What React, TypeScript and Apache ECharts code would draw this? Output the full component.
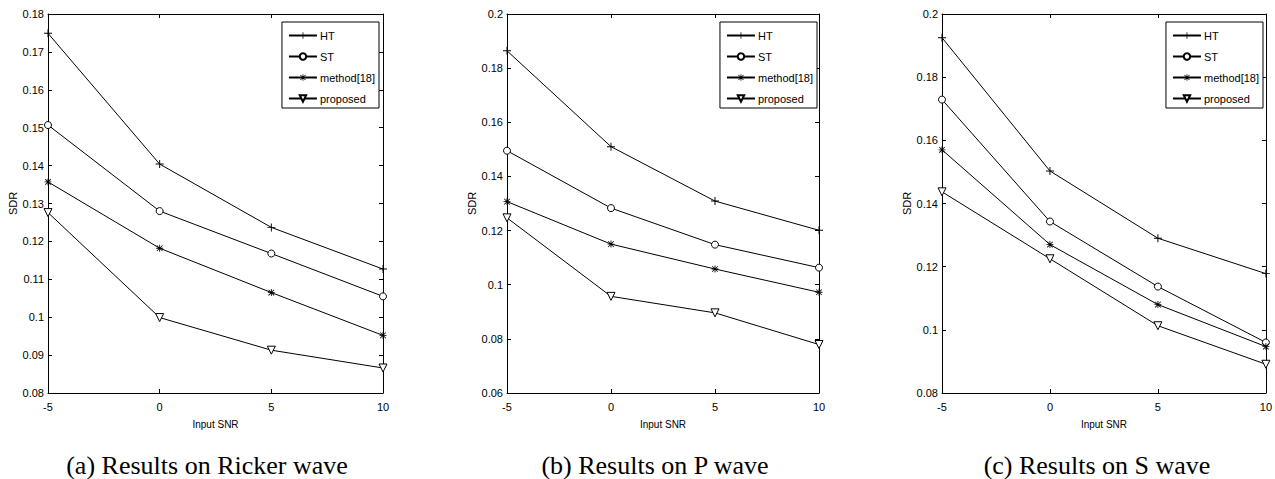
import React, { useEffect, useRef } from "react";
import * as echarts from "echarts";

const snr = [-5, 0, 5, 10];
const seriesNames = ["HT", "ST", "method[18]", "proposed"];

const rickerHT = [0.1749, 0.1404, 0.1237, 0.1127];
const rickerST = [0.1507, 0.128, 0.1168, 0.1055];
const rickerM18 = [0.1357, 0.1182, 0.1065, 0.0952];
const rickerProp = [0.1276, 0.0999, 0.0913, 0.0866];

const pHT = [0.1864, 0.151, 0.1309, 0.1201];
const pST = [0.1495, 0.1283, 0.1148, 0.1063];
const pM18 = [0.1307, 0.115, 0.1058, 0.0972];
const pProp = [0.1247, 0.0957, 0.0896, 0.0779];

const sHT = [0.1925, 0.1503, 0.129, 0.1178];
const sST = [0.1729, 0.1343, 0.1137, 0.096];
const sM18 = [0.157, 0.127, 0.108, 0.0947];
const sProp = [0.1437, 0.1225, 0.1013, 0.0891];

const captions = ["(a) Results on Ricker wave", "(b) Results on P wave", "(c) Results on S wave"];
const yMins = [0.08, 0.06, 0.08];
const yMaxs = [0.18, 0.2, 0.2];
const yIntervals = [0.01, 0.02, 0.02];

const panels = [
  [rickerHT, rickerST, rickerM18, rickerProp],
  [pHT, pST, pM18, pProp],
  [sHT, sST, sM18, sProp],
];

// layout (pixels)
const grids = [
  { left: 48, top: 14, width: 335, height: 379 },
  { left: 507, top: 14, width: 312, height: 379 },
  { left: 942, top: 14, width: 325, height: 379 },
];
const legendRights = [896, 458, 12];
const captionX = [207, 655, 1097];
const nameGaps = [30, 29, 28];

const PLUS = "path://M4.4,0 H5.6 V4.4 H10 V5.6 H5.6 V10 H4.4 V5.6 H0 V4.4 H4.4 Z";
const STAR =
  "path://M4.4,0 H5.6 V10 H4.4 Z M0,4.4 H10 V5.6 H0 Z M0.6,1.4 L1.4,0.6 L9.4,8.6 L8.6,9.4 Z M8.6,0.6 L9.4,1.4 L1.4,9.4 L0.6,8.6 Z";
const TRI = "path://M0,0 L10,0 L5,9 Z";

const sans = "'Liberation Sans', Arial, sans-serif";

function symbolFor(i: number) {
  if (i === 0) return { symbol: PLUS, symbolSize: 8, itemStyle: { color: "#000" } };
  if (i === 1)
    return { symbol: "circle", symbolSize: 7, itemStyle: { color: "#fff", borderColor: "#000", borderWidth: 1 } };
  if (i === 2) return { symbol: STAR, symbolSize: 7, itemStyle: { color: "#000" } };
  return { symbol: TRI, symbolSize: 8, itemStyle: { color: "#fff", borderColor: "#000", borderWidth: 1 } };
}

export default function App() {
  const ref = useRef<HTMLDivElement>(null);
  useEffect(() => {
    if (!ref.current) return;
    const chart = echarts.init(ref.current, undefined, { renderer: "svg" });
    const xAxis: any[] = [];
    const yAxis: any[] = [];
    const series: any[] = [];
    grids.forEach((g, p) => {
      const tick = { show: true, inside: true, length: 4, lineStyle: { color: "#000" } };
      const line = { show: true, onZero: false, lineStyle: { color: "#000", width: 1 } };
      xAxis.push({
        type: "value",
        gridIndex: p,
        min: -5,
        max: 10,
        interval: 5,
        position: "bottom",
        name: "Input SNR",
        nameLocation: "middle",
        nameGap: 26,
        nameTextStyle: { fontFamily: sans, fontSize: 10, color: "#000" },
        axisLine: line,
        axisTick: tick,
        axisLabel: { color: "#000", fontFamily: sans, fontSize: 11, margin: 8 },
        splitLine: { show: false },
      });
      xAxis.push({
        type: "value",
        gridIndex: p,
        min: -5,
        max: 10,
        interval: 5,
        position: "top",
        axisLine: line,
        axisTick: tick,
        axisLabel: { show: false },
        splitLine: { show: false },
      });
      yAxis.push({
        type: "value",
        gridIndex: p,
        min: yMins[p],
        max: yMaxs[p],
        interval: yIntervals[p],
        position: "left",
        name: "SDR",
        nameLocation: "middle",
        nameGap: nameGaps[p],
        nameTextStyle: { fontFamily: sans, fontSize: 11, color: "#000" },
        axisLine: line,
        axisTick: tick,
        axisLabel: { color: "#000", fontFamily: sans, fontSize: 11, margin: 4 },
        splitLine: { show: false },
      });
      yAxis.push({
        type: "value",
        gridIndex: p,
        min: yMins[p],
        max: yMaxs[p],
        interval: yIntervals[p],
        position: "right",
        axisLine: line,
        axisTick: tick,
        axisLabel: { show: false },
        splitLine: { show: false },
      });
      panels[p].forEach((vals, i) => {
        series.push({
          type: "line",
          name: seriesNames[i],
          xAxisIndex: p * 2,
          yAxisIndex: p * 2,
          data: snr.map((x, k) => [x, vals[k]]),
          lineStyle: { color: "#000", width: 1 },
          ...symbolFor(i),
          z: 3,
        });
      });
    });

    chart.setOption({
      animation: false,
      backgroundColor: "#fff",
      grid: grids.map((g) => ({ ...g, containLabel: false })),
      xAxis,
      yAxis,
      series,
      legend: legendRights.map((r) => ({
        data: seriesNames,
        orient: "vertical",
        right: r,
        top: 22,
        itemWidth: 28,
        itemHeight: 8,
        itemGap: 10,
        padding: [8, 4, 4, 6],
        borderColor: "#000",
        borderWidth: 1,
        borderRadius: 0,
        backgroundColor: "#fff",
        selectedMode: false,
        textStyle: { fontFamily: sans, fontSize: 11, color: "#000", padding: [0, 0, 0, -2] },
      })),
      graphic: captions.map((c, i) => ({
        type: "text",
        x: captionX[i],
        y: 465,
        style: {
          text: c,
          fill: "#000",
          font: "26px 'Liberation Serif', 'Times New Roman', serif",
          align: "center",
          verticalAlign: "middle",
        },
      })),
    });
    return () => chart.dispose();
  }, []);
  return (
    <div
      ref={ref}
      style={{ position: "fixed", left: 0, top: 0, width: 1275, height: 479, background: "#fff" }}
    />
  );
}
